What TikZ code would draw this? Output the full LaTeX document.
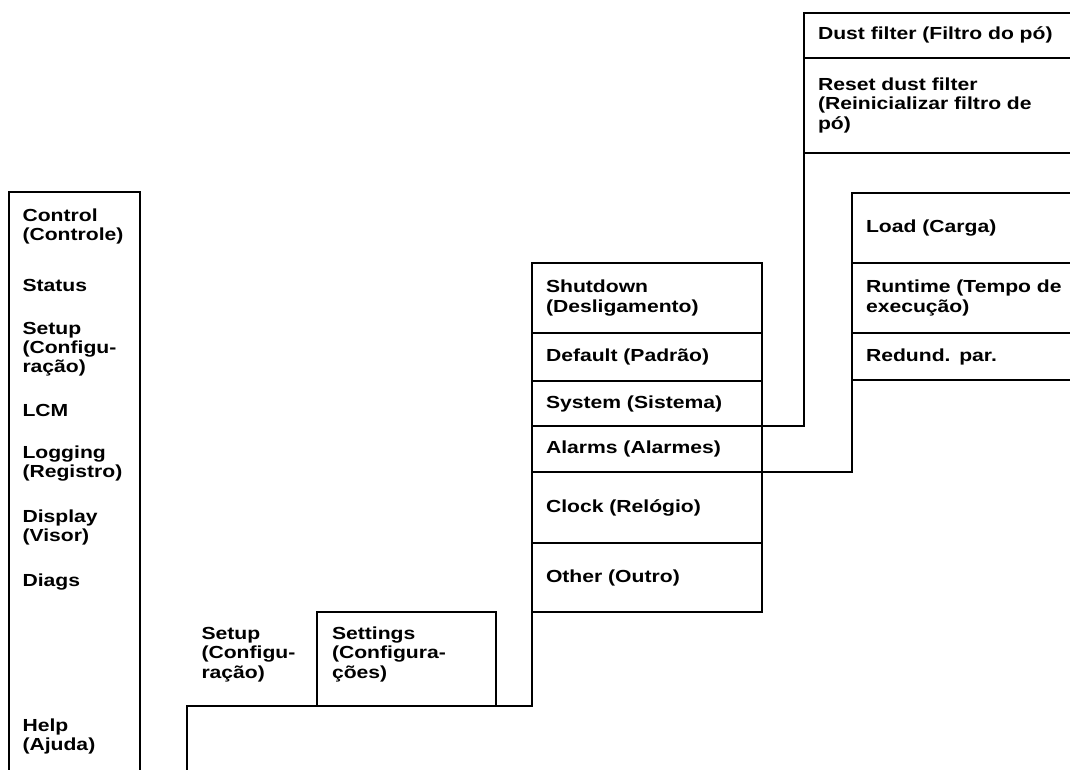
\documentclass[tikz,border=0pt]{standalone}
\usepackage{fontspec}
\setmainfont{Liberation Sans}[FakeStretch=1.21]
\newcommand\mfont{\bfseries\fontsize{13.1pt}{14.6pt}\selectfont}
\tikzset{
  frame/.style={line width=1.5pt, line cap=rect, black},
  txt/.style={font=\mfont, inner sep=0pt, outer sep=0pt, align=left, anchor=base west, text width=150pt},
  row/.style={font=\mfont, anchor=north west, inner xsep=10.5pt, inner ysep=0pt, outer sep=0pt, align=left}
}
\begin{document}
\begin{tikzpicture}[x=0.75pt,y=-0.75pt]
\useasboundingbox (0,0) rectangle (1070,769);
\coordinate (R) at (1076,0);
\coordinate (B) at (0,776);
% left main menu
\coordinate (ltl) at (8.5,192);
\coordinate (ltr) at (140,192);
\node[txt] (control) at (22.5,221.5) {Control\\(Controle)};
\node[txt] (status) at (22.5,291) {Status};
\node[txt] (setup) at (22.5,334) {Setup\\(Configu-\\ração)};
\node[txt] (lcm) at (22.5,416) {LCM};
\node[txt] (logging) at (22.5,458) {Logging\\(Registro)};
\node[txt] (display) at (22.5,522) {Display\\(Visor)};
\node[txt] (diags) at (22.5,586) {Diags};
\node[txt] (help) at (22.5,731) {Help\\(Ajuda)};
\draw[frame] (ltl |- B) -- (ltl) -- (ltr) -- (ltr |- B);
% setup submenu
\coordinate (b1) at (187,706);
\node[txt] (setup2) at (201.5,639.5) {Setup\\(Configu-\\ração)};
\coordinate (stl) at (317,612);
\coordinate (str) at (496,612);
\node[txt] (settings) at (332,639.5) {Settings\\(Configura-\\ções)};
% middle menu
\node[row, text width=151.5pt, minimum height=52.5pt] (shut) at (532,263) {Shutdown\\(Desligamento)};
\node[row, text width=151.5pt, minimum height=36pt] (dflt) at (shut.south west) {Default (Padrão)};
\node[row, text width=151.5pt, minimum height=33.75pt] (sys) at (dflt.south west) {System (Sistema)};
\node[row, text width=151.5pt, minimum height=34.5pt] (alm) at (sys.south west) {Alarms (Alarmes)};
\node[row, text width=151.5pt, minimum height=53.25pt] (clk) at (alm.south west) {Clock (Relógio)};
\node[row, text width=151.5pt, minimum height=51.75pt] (oth) at (clk.south west) {Other (Outro)};
% dust filter menu
\node[row, text width=190pt, minimum height=34pt] (dust) at (804,12.7) {Dust filter (Filtro do pó)};
\node[row, text width=190pt, minimum height=71pt] (reset) at (dust.south west) {Reset dust filter\\(Reinicializar filtro de\\pó)};
% alarms menu
\node[row, text width=190pt, minimum height=52.5pt] (load) at (852,193) {Load (Carga)};
\node[row, text width=190pt, minimum height=52.5pt] (run) at (load.south west) {Runtime (Tempo de\\execução)};
\node[row, text width=190pt, minimum height=35.25pt] (red) at (run.south west) {Redund. par.};
% bottom connector and settings box
\draw[frame] (b1 |- B) -- (b1) -- (b1 -| oth.south west) -- (shut.north west) -- (shut.north east) -- (oth.south east) -- (oth.south west);
\draw[frame] (stl |- b1) -- (stl) -- (str) -- (str |- b1);
% middle dividers
\draw[frame] (shut.south west) -- (shut.south east);
\draw[frame] (dflt.south west) -- (dflt.south east);
\draw[frame] (clk.south west) -- (clk.south east);
% connectors to submenus
\draw[frame] (sys.south west) -- (sys.south east) -| (dust.north west) -- (dust.north west -| R);
\draw[frame] (dust.south west) -- (dust.south west -| R);
\draw[frame] (reset.south west) -- (reset.south west -| R);
\draw[frame] (alm.south west) -- (alm.south east) -| (load.north west) -- (load.north west -| R);
\draw[frame] (load.south west) -- (load.south west -| R);
\draw[frame] (run.south west) -- (run.south west -| R);
\draw[frame] (red.south west) -- (red.south west -| R);
\end{tikzpicture}
\end{document}
